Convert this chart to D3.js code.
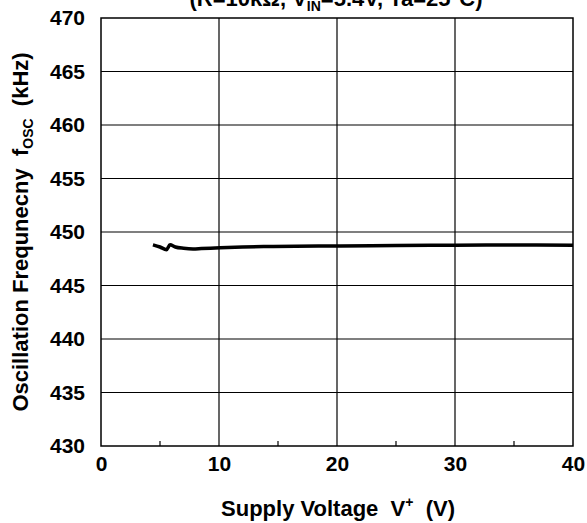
<!DOCTYPE html>
<html>
<head>
<meta charset="utf-8">
<script src="https://cdn.jsdelivr.net/npm/d3@7"></script>
<style>
  body { margin: 0; background: #fff; }
  text { font-family: "Liberation Sans", Arial, sans-serif; font-weight: bold; fill: #000; white-space: pre; }
</style>
</head>
<body>
<div id="chart"></div>
<script>
// supply voltage (V) vs oscillation frequency (kHz)
const voltage = [4.4, 5.0, 5.55, 5.85, 6.3, 7.0, 7.8, 8.5, 10.1, 12.0, 14.6, 20.3, 25, 30, 35, 40];
const freq    = [448.8, 448.6, 448.35, 448.8, 448.6, 448.48, 448.42, 448.45, 448.53, 448.6, 448.65, 448.7, 448.74, 448.77, 448.78, 448.76];
const xTicks = [0, 10, 20, 30, 40];
const xMinor = [5, 15, 25, 35];
const yTicks = [430, 435, 440, 445, 450, 455, 460, 465, 470];

var width = 587, height = 523;
var margin = {top: 18, right: 14, bottom: 77, left: 101};
var w = width - margin.left - margin.right;
var h = height - margin.top - margin.bottom;
var fs = "21px";   // tick labels
var ts = "22px";   // titles

var svg = d3.select("#chart").append("svg")
  .attr("width", width)
  .attr("height", height);

var x = d3.scaleLinear().domain([0, 40]).range([margin.left, margin.left + w]);
var y = d3.scaleLinear().domain([430, 470]).range([margin.top + h, margin.top]);

// grid
svg.append("g").selectAll("line")
  .data(yTicks.slice(1, -1))
  .enter().append("line")
  .attr("x1", x(0)).attr("x2", x(40))
  .attr("y1", d => y(d)).attr("y2", d => y(d))
  .attr("stroke", "#000").attr("stroke-width", 1.2);

svg.append("g").selectAll("line")
  .data(xTicks.slice(1, -1))
  .enter().append("line")
  .attr("x1", d => x(d)).attr("x2", d => x(d))
  .attr("y1", y(430)).attr("y2", y(470))
  .attr("stroke", "#000").attr("stroke-width", 1.2);

// minor ticks along bottom
svg.append("g").selectAll("line")
  .data(xMinor)
  .enter().append("line")
  .attr("x1", d => x(d)).attr("x2", d => x(d))
  .attr("y1", y(430)).attr("y2", y(430) - 5)
  .attr("stroke", "#000").attr("stroke-width", 1.2);

// frame
svg.append("rect")
  .attr("x", x(0)).attr("y", y(470))
  .attr("width", w).attr("height", h)
  .attr("fill", "none").attr("stroke", "#000").attr("stroke-width", 1.5);

// axes labels (tick text only)
var xAxis = svg.append("g")
  .attr("transform", "translate(0," + (y(430)) + ")")
  .call(d3.axisBottom(x).tickValues(xTicks).tickSize(0).tickPadding(10).tickFormat(d3.format("d")));
xAxis.select(".domain").remove();
xAxis.selectAll("text").style("font-size", fs).attr("font-family", null);

var yAxis = svg.append("g")
  .attr("transform", "translate(" + x(0) + ",0)")
  .call(d3.axisLeft(y).tickValues(yTicks).tickSize(0).tickPadding(16).tickFormat(d3.format("d")));
yAxis.select(".domain").remove();
yAxis.selectAll("text").style("font-size", fs).attr("font-family", null);

// curve
svg.append("path")
  .datum(d3.zip(voltage, freq))
  .attr("fill", "none")
  .attr("stroke", "#000")
  .attr("stroke-width", 3.5)
  .attr("stroke-linejoin", "round")
  .attr("d", d3.line().x(d => x(d[0])).y(d => y(d[1])).curve(d3.curveMonotoneX));

// title (cut off at top)
var title = svg.append("text")
  .attr("x", 336).attr("y", 6)
  .attr("text-anchor", "middle")
  .style("font-size", ts);
title.append("tspan").text("(R=10kΩ, V");
title.append("tspan").attr("dy", 5).style("font-size", "14px").text("IN");
title.append("tspan").attr("dy", -5).text("=5.4V, Ta=25°C)");

// x title
var xt = svg.append("text")
  .attr("x", 338).attr("y", 516)
  .attr("text-anchor", "middle")
  .style("font-size", ts);
xt.append("tspan").text("Supply Voltage  V");
xt.append("tspan").attr("dy", -9).style("font-size", "14px").text("+");
xt.append("tspan").attr("dy", 9).text("  (V)");

// y title
var yt = svg.append("text")
  .attr("transform", "translate(28,232) rotate(-90)")
  .attr("text-anchor", "middle")
  .style("font-size", ts);
yt.append("tspan").text("Oscillation Frequnecny  f");
yt.append("tspan").attr("dy", 5).style("font-size", "14px").text("OSC");
yt.append("tspan").attr("dy", -5).text("  (kHz)");
</script>
</body>
</html>
